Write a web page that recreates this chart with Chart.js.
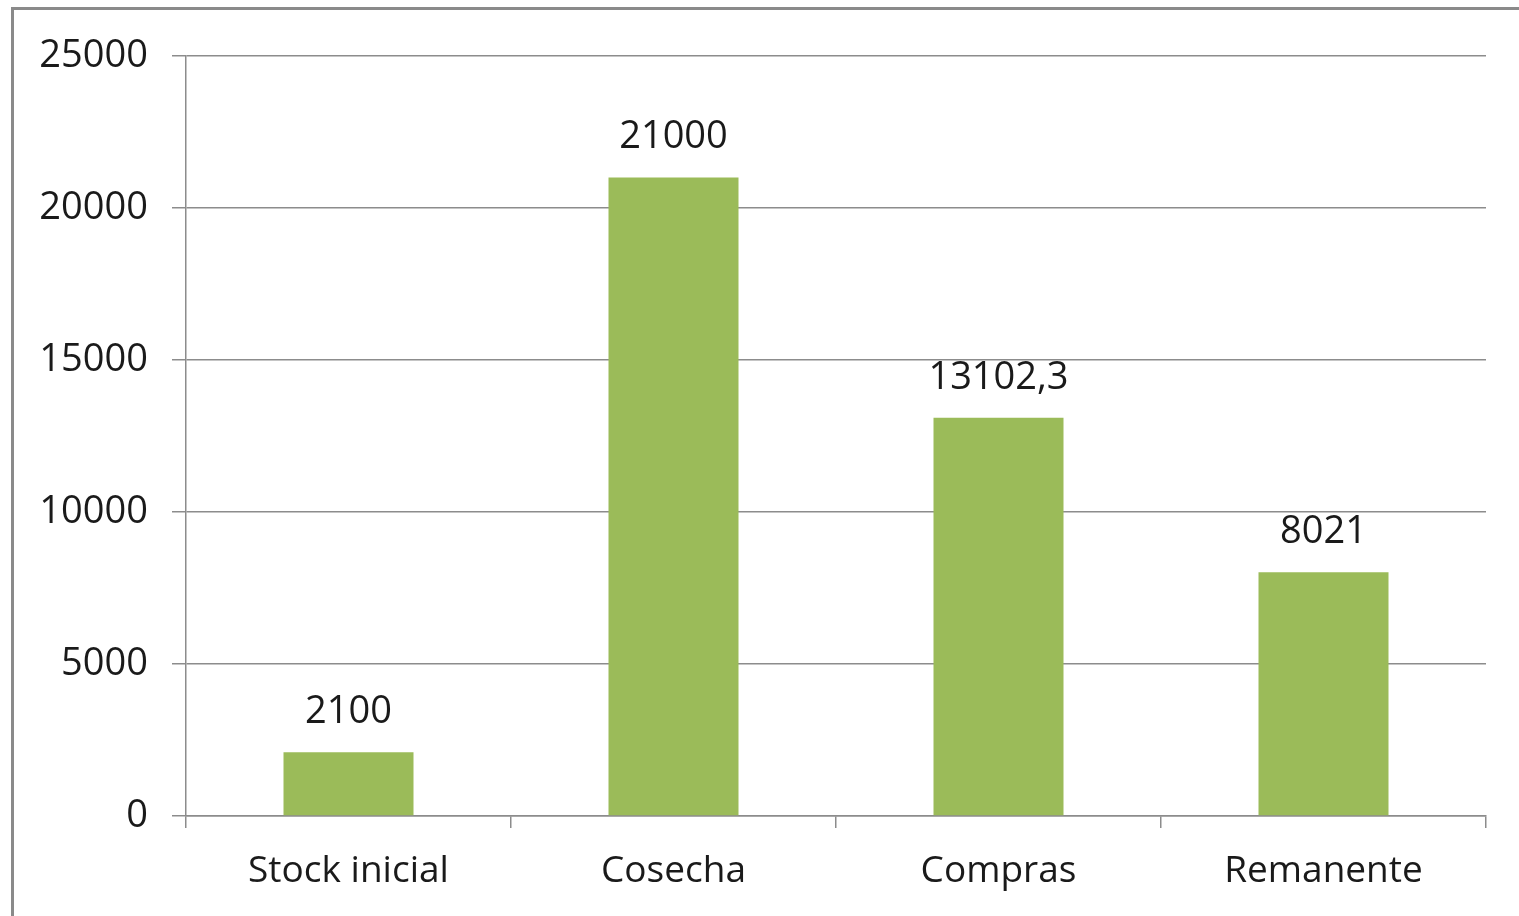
<!DOCTYPE html>
<html>
<head>
<meta charset="utf-8">
<script src="https://cdn.jsdelivr.net/npm/chart.js@4"></script>
<style>
  html, body { margin: 0; padding: 0; background: #fff; overflow: hidden; }
  #frame { position: absolute; left: 11px; top: 7px; width: 1700px; height: 1100px; border: 3px solid #8a8a8a; }
  #wrap { position: absolute; left: 0; top: 0; width: 1519px; height: 916px; }
</style>
</head>
<body>
<div id="frame"></div>
<div id="wrap"><canvas id="myChart"></canvas></div>
<script>
const categories = ['Stock inicial', 'Cosecha', 'Compras', 'Remanente'];
const values = [2100, 21000, 13102.3, 8021];
const valueLabels = ['2100', '21000', '13102,3', '8021'];

const fontFamily = '"Open Sans", "Noto Sans", sans-serif';

// draws the number above every bar
const barLabels = {
    id: 'barLabels',
    afterDatasetsDraw(chart) {
        const ctx = chart.ctx;
        const meta = chart.getDatasetMeta(0);
        ctx.save();
        ctx.font = '38px ' + fontFamily;
        ctx.fillStyle = '#1a1a1a';
        ctx.textAlign = 'center';
        ctx.textBaseline = 'middle';
        meta.data.forEach(function (bar, i) {
            ctx.fillText(valueLabels[i], bar.x, bar.y - 40);
        });
        ctx.restore();
    }
};

(function() {
    var ctx = document.querySelector('#myChart');
    new Chart(ctx, {
        type: 'bar',
        data: {
            labels: categories,
            datasets: [{
                data: values,
                backgroundColor: '#9bbb59',
                barPercentage: 0.4,
                categoryPercentage: 1.0
            }]
        },
        options: {
            responsive: true,
            maintainAspectRatio: false,
            animation: false,
            layout: { padding: { top: 56, right: 33, left: 0, bottom: 0 } },
            plugins: {
                legend: { display: false },
                tooltip: { enabled: false }
            },
            scales: {
                x: {
                    afterFit(scale) { scale.height = 100; },
                    grid: {
                        offset: true,
                        drawOnChartArea: false,
                        drawTicks: true,
                        tickLength: 12,
                        color: '#8c8c8c',
                        lineWidth: 1.5
                    },
                    border: { color: '#8c8c8c', width: 1.5 },
                    ticks: {
                        color: '#1a1a1a',
                        padding: 21,
                        font: { family: fontFamily, size: 37 }
                    }
                },
                y: {
                    min: 0,
                    max: 25000,
                    afterFit(scale) { scale.width = 186; },
                    grid: {
                        color: '#8c8c8c',
                        lineWidth: 1.5,
                        tickLength: 14
                    },
                    border: { color: '#8c8c8c', width: 1.5 },
                    ticks: {
                        stepSize: 5000,
                        color: '#1a1a1a',
                        padding: 24,
                        font: { family: fontFamily, size: 38 },
                        callback(v) { return String(v); }
                    }
                }
            }
        },
        plugins: [barLabels]
    });
})();
</script>
</body>
</html>
